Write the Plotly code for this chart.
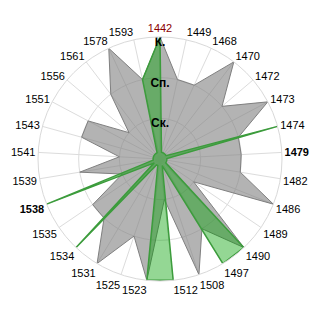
import plotly.graph_objects as go

categories = ["1442", "1449", "1468", "1470", "1472", "1473", "1474", "1479", "1482",
              "1486", "1489", "1490", "1497", "1508", "1512", "1523", "1525", "1531",
              "1534", "1535", "1538", "1539", "1541", "1543", "1551", "1556", "1561",
              "1578", "1593"]
grey_values = [3, 2, 2, 3, 2, 3, 2, 2, 2, 3, 1, 3, 2, 3, 1, 3, 2, 3, 2, 2, 1, 2, 1, 2, 2, 1, 2, 3, 2]
green_values = [3, 0.17, 0.17, 0.17, 0.17, 0.17, 3, 0.17, 0.17, 0.17, 0.17, 3, 3, 0.17, 3, 3,
                0.17, 0.17, 3, 0.17, 3, 0.17, 0.17, 0.17, 0.17, 0.17, 0.17, 0.17, 2]
level_values = [1, 2, 3]
level_labels = ["Ск.", "Сп.", "К."]

def tick_label(c):
    if c == "1442":
        return "<span style='color:#8B0000'>1442</span>"
    if c in ("1479", "1538"):
        return "<b>" + c + "</b>"
    return c

fig = go.Figure()
fig.add_trace(go.Scatterpolar(
    r=grey_values + grey_values[:1], theta=categories + categories[:1],
    mode="lines", fill="toself", fillcolor="rgba(128,128,128,0.6)",
    line=dict(color="#7f7f7f", width=1), hoverinfo="skip"))
fig.add_trace(go.Scatterpolar(
    r=green_values + green_values[:1], theta=categories + categories[:1],
    mode="lines", fill="toself", fillcolor="rgba(0,160,0,0.42)",
    line=dict(color="#3c9c3c", width=1.5), hoverinfo="skip"))
fig.add_trace(go.Scatterpolar(
    r=level_values, theta=[categories[0]] * 3, mode="text", text=level_labels,
    textposition="bottom center",
    textfont=dict(family="Liberation Sans, Arial", size=12, color="black", weight="bold"),
    hoverinfo="skip"))

fig.update_layout(
    width=320, height=320,
    margin=dict(l=38, r=38, t=37, b=39),
    paper_bgcolor="white",
    showlegend=False,
    font=dict(family="Liberation Sans, Arial", size=11, color="black"),
    polar=dict(
        bgcolor="white",
        angularaxis=dict(
            type="category", categoryarray=categories, direction="clockwise", rotation=90,
            tickmode="array", tickvals=categories, ticktext=[tick_label(c) for c in categories],
            showline=True, linecolor="#d9d9d9", gridcolor="#dcdcdc", ticks="",
            tickfont=dict(size=11, color="black")),
        radialaxis=dict(
            range=[0, 3], tickvals=level_values, showticklabels=False, ticks="",
            showline=False, gridcolor="#dcdcdc"),
    ),
)
fig.write_html("out.html")
